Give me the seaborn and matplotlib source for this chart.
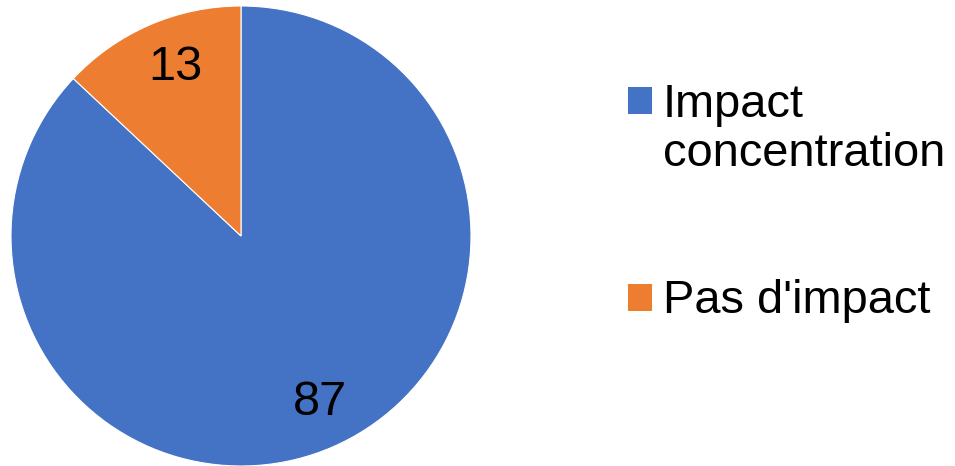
import matplotlib
matplotlib.use("Agg")
import matplotlib.pyplot as plt
import seaborn as sns
from matplotlib.patches import Rectangle
from matplotlib.legend_handler import HandlerPatch

# Share of responses: impact on concentration vs. no impact
categories = ["Impact\nconcentration", "Pas d'impact"]
values = [87, 13]
colors = ["#4472C4", "#ED7D31"]

sns.set_theme(style="white")
plt.rcParams["font.family"] = ["Liberation Sans", "DejaVu Sans"]
plt.rcParams["text.color"] = "black"

W, H, DPI = 955, 466, 100
fig = plt.figure(figsize=(W / DPI, H / DPI), dpi=DPI)
fig.patch.set_facecolor("white")

# Pie occupies a 460 px square on the left
cx, cy, r = 241, 236, 230
ax = fig.add_axes([(cx - r) / W, (H - cy - r) / H, 2 * r / W, 2 * r / H])
ax.set_facecolor("white")

wedges, texts = ax.pie(
    values,
    labels=[str(v) for v in values],
    colors=colors,
    startangle=90,
    counterclock=False,
    labeldistance=0.794,
    radius=1.0,
    wedgeprops=dict(edgecolor="white", linewidth=0.8),
    textprops=dict(fontsize=35, color="black"),
)
# value labels sit on their baseline, nudged slightly right/down
for t in texts:
    x, y = t.get_position()
    t.set_position((x + 0.03, y - 0.05))
    t.set_horizontalalignment("center")
    t.set_verticalalignment("baseline")
ax.set_xlim(-1, 1)
ax.set_ylim(-1, 1)
ax.set_aspect("equal")
ax.axis("off")

LEG_FS = 33.8


def square_at(shift):
    # legend key square, raised to sit beside the first line of its label
    def make(legend, orig_handle, xdescent, ydescent, width, height, fontsize):
        return Rectangle((-xdescent, -ydescent + shift * fontsize), width, height)
    return make


handler_map = {
    wedges[i]: HandlerPatch(
        patch_func=square_at(0.655 * lab.count("\n") - 0.03)
    )
    for i, lab in enumerate(categories)
}

leg = fig.legend(
    wedges,
    categories,
    loc="center left",
    bbox_to_anchor=(628 / W, 1 - 203 / H),
    frameon=False,
    fontsize=LEG_FS,
    handlelength=0.52,
    handleheight=0.52,
    handletextpad=0.22,
    labelspacing=2.19,
    borderpad=0,
    borderaxespad=0,
    handler_map=handler_map,
)
for h in leg.legend_handles:
    h.set_edgecolor("none")
for t in leg.get_texts():
    t.set_color("black")
    t.set_linespacing(1.15)

fig.savefig("out.png", dpi=DPI, facecolor="white")
